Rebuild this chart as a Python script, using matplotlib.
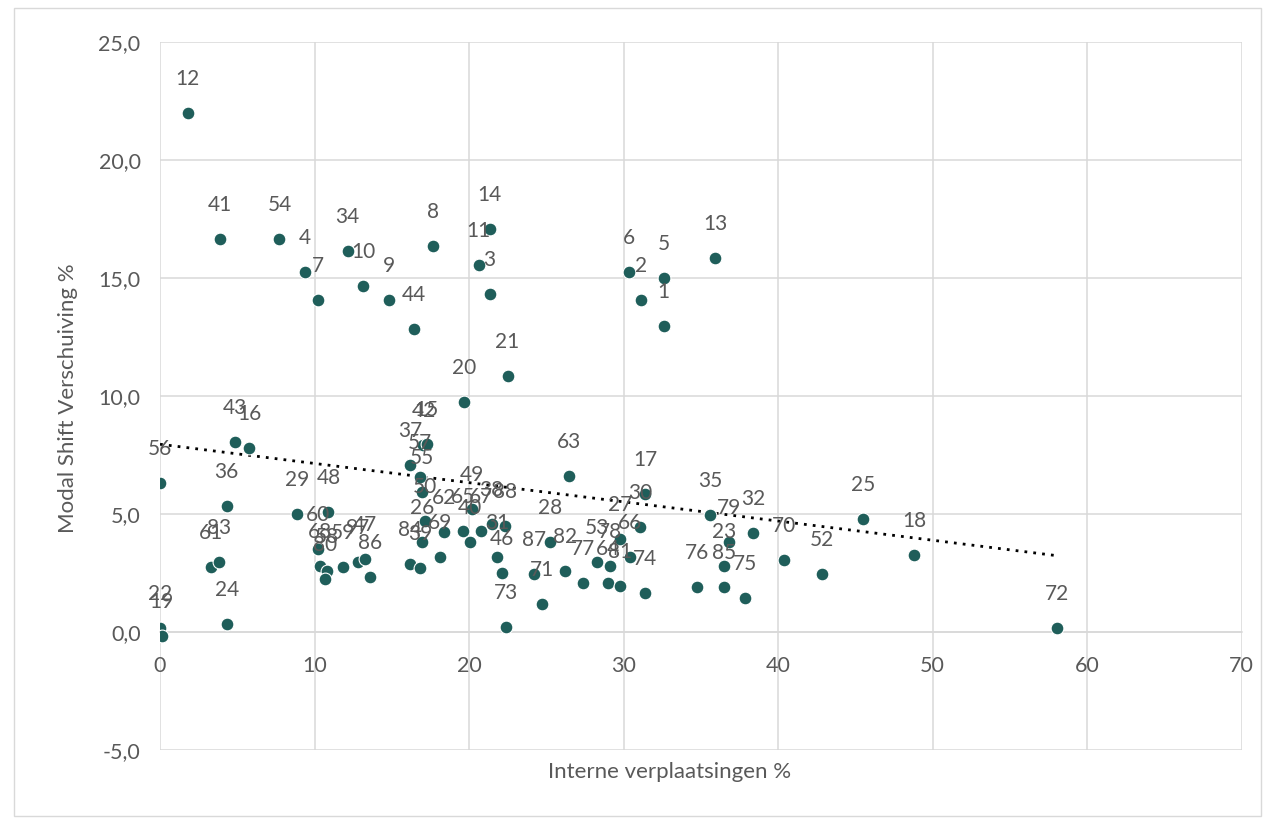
import numpy as np
import matplotlib
matplotlib.use("Agg")
import matplotlib.pyplot as plt
from matplotlib.patches import Rectangle

plt.rcParams['font.family'] = ['Lato', 'DejaVu Sans']

# data (label, interne verplaatsingen %, modal shift %)
labels = ["12", "41", "54", "4", "7", "34", "10", "9", "44", "8",
          "14", "11", "3", "21", "20", "6", "2", "5", "1", "13",
          "56", "43", "16", "36", "29", "48", "60", "61", "83", "24",
          "22", "19", "68", "58", "80", "59", "97", "47", "86",
          "37", "42", "15", "57", "55", "50", "26", "62", "69", "84",
          "39", "65", "40", "67", "49", "38", "88", "31", "46", "73",
          "28", "87", "82", "71", "63", "77", "53", "78", "64", "81",
          "27", "66", "30", "17", "74", "35", "79", "23", "85", "76",
          "75", "32", "70", "52", "25", "18", "72"]
x_intern = [1.78, 3.89, 7.73, 9.39, 10.25, 12.15, 13.17, 14.79, 16.41, 17.66,
            21.33, 20.62, 21.33, 22.5, 19.7, 30.33, 31.13, 32.64, 32.6, 35.95,
            0.0, 4.86, 5.79, 4.32, 8.85, 10.9, 10.25, 3.3, 3.84, 4.36,
            0.0, 0.1, 10.36, 10.8, 10.69, 11.87, 12.84, 13.28, 13.6,
            16.2, 17.05, 17.25, 16.84, 16.95, 17.16, 16.95, 18.35, 18.13, 16.2,
            16.84, 19.64, 20.08, 20.8, 20.18, 21.47, 22.34, 21.8, 22.12, 22.4,
            25.26, 24.18, 26.2, 24.7, 26.45, 27.37, 28.3, 29.15, 28.97, 29.75,
            29.79, 30.44, 31.09, 31.41, 31.41, 35.62, 36.8, 36.5, 36.5, 34.75,
            37.89, 38.38, 40.37, 42.85, 45.5, 48.8, 58.03]
y_shift = [22.0, 16.67, 16.67, 15.26, 14.06, 16.14, 14.65, 14.06, 12.85, 16.35,
           17.06, 15.57, 14.34, 10.85, 9.76, 15.25, 14.06, 14.98, 12.95, 15.86,
           6.31, 8.03, 7.8, 5.32, 5.01, 5.1, 3.5, 2.74, 2.95, 0.35,
           0.15, -0.15, 2.81, 2.6, 2.24, 2.77, 2.95, 3.09, 2.34,
           7.06, 7.91, 7.95, 6.57, 5.93, 4.72, 3.8, 4.22, 3.16, 2.88,
           2.73, 4.3, 3.8, 4.26, 5.2, 4.58, 4.51, 3.16, 2.52, 0.21,
           3.8, 2.45, 2.6, 1.18, 6.6, 2.07, 2.95, 2.79, 2.07, 1.96,
           3.94, 3.16, 4.44, 5.83, 1.67, 4.94, 3.8, 2.78, 1.89, 1.89,
           1.46, 4.18, 3.06, 2.45, 4.77, 3.26, 0.16]

x_ticks = [0, 10, 20, 30, 40, 50, 60, 70]
y_ticks = [-5, 0, 5, 10, 15, 20, 25]

dot_color = "#1f5e5a"
text_color = "#595959"
grid_color = "#d9d9d9"

fig = plt.figure(figsize=(12.63, 8.19), dpi=100)
ax = fig.add_axes([160 / 1263, 1 - 750 / 819, (1241.5 - 160) / 1263, (750 - 42) / 819])

ax.scatter(x_intern, y_shift, s=85, color=dot_color, edgecolor="white",
           linewidth=0.8, zorder=3)

for lab, xv, yv in zip(labels, x_intern, y_shift):
    ax.annotate(lab, (xv, yv), xytext=(0, 34), textcoords="offset pixels",
                ha="center", va="center", fontsize=15, color=text_color, zorder=4)

# linear trendline (excel style, dotted)
xa = np.array(x_intern)
coef = np.polyfit(xa, np.array(y_shift), 1)
xs = np.array([xa.min(), xa.max()])
ax.plot(xs, np.polyval(coef, xs), color="black", linestyle=(0, (1, 2.2)),
        linewidth=2, zorder=2)

ax.set_xlim(0, 70)
ax.set_ylim(-5, 25)
ax.set_xticks(x_ticks)
ax.set_yticks(y_ticks)
ax.set_yticklabels([f"{v:.1f}".replace(".", ",") for v in y_ticks])
ax.grid(True, color=grid_color, linewidth=1.1)
ax.set_axisbelow(True)
for sp in ax.spines.values():
    sp.set_visible(False)
ax.spines['bottom'].set_visible(True)
ax.spines['bottom'].set_position(('data', 0))
ax.spines['bottom'].set_color(grid_color)
ax.spines['bottom'].set_linewidth(1.1)
ax.tick_params(axis="x", length=0, pad=17, labelsize=15.5, colors=text_color)
ax.tick_params(axis="y", length=0, pad=14, labelsize=15.5, colors=text_color)

fig.text(670 / 1263, 1 - 772 / 819, "Interne verplaatsingen %", ha="center",
         va="center", fontsize=16, color=text_color)
fig.text(68 / 1263, 1 - 398 / 819, "Modal Shift Verschuiving %", ha="center",
         va="center", rotation=90, fontsize=16, color=text_color)

# chart frame
fig.patches.append(Rectangle((14 / 1263, 1 - 816 / 819), (1261 - 14) / 1263,
                             (816 - 8) / 819, transform=fig.transFigure,
                             fill=False, edgecolor="#d9d9d9", linewidth=1))

fig.savefig("out.png", dpi=100)
